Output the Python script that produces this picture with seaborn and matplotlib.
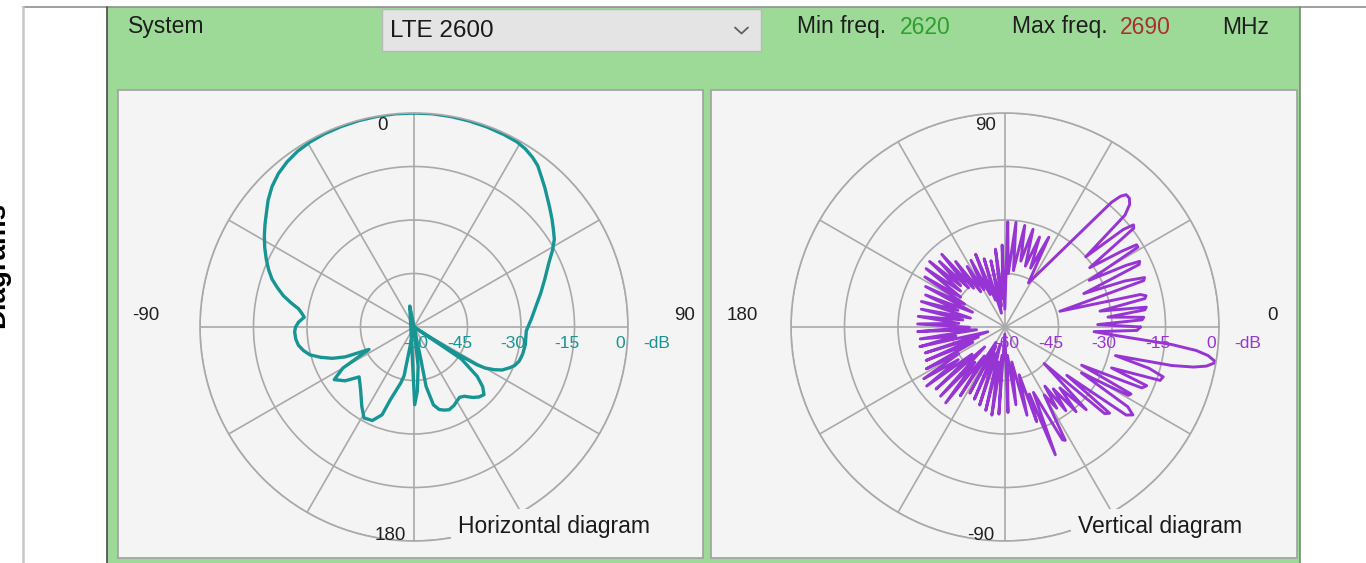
import numpy as np
import pandas as pd
import matplotlib
matplotlib.use("Agg")
import matplotlib.pyplot as plt
import seaborn as sns
from matplotlib.patches import Rectangle

# ---------------- data ----------------
system_label = "System"
system_name = "LTE 2600"
min_freq = "2620"
max_freq = "2690"
freq_unit = "MHz"
db_ticks = [-60, -45, -30, -15, 0]

# Horizontal diagram: angle in degrees clockwise from the top (0), level in dB
h_angle = [0, 5, 10, 15, 20, 25, 29, 32, 35, 37.5, 40, 43, 46, 49, 52, 55, 58, 61, 65, 70, 75, 80,
           86, 92, 99, 104, 108, 111, 113, 116, 118, 120, 121, 122, 122.5,
           123, 124, 128, 131, 134, 137, 140, 144, 147, 150, 153, 157, 160, 163, 166, 168.5, 168,
           170, 174, 177, 179.5, 348.5, 190, 191.5, 193.4, 198, 200, 204, 208.8, 213.4, 220.4,
           227.7, 232, 236.6, 240, 243.5, 246.5, 249, 252, 255, 258, 261, 264, 267.6, 270, 272.4,
           275.1, 277, 279, 281, 283.5, 286, 288.6, 291.5, 294.7, 298, 301.3, 304.5, 307.7, 311,
           314.7, 318.5, 322.5, 326.5, 330.7, 335, 340, 345, 350, 355, 360]
h_db = [0.0, 0.0, -0.1, -0.2, -0.3, -0.45, -0.6, -1.1, -2.0, -3.0, -4.6, -6.3, -8.0, -9.5, -10.9,
        -12.3, -13.6, -15.6, -18.4, -21.0, -23.2, -25.2,
        -27.0, -28.5, -28.4, -28.6, -29.0, -29.8, -30.8, -32.5, -34.5, -37.0, -39.5, -46.8, -53.0,
        -60, -44, -37.5, -34.5, -32.7, -33.2, -34.2, -36.0, -36.5, -36.0, -35.3, -34.8, -35.2,
        -35.8, -37.5, -43.0, -51.6,
        -60, -49, -42, -38.2, -54, -60, -46, -43.8, -38.6, -33.8, -31.3, -30.9, -33.4, -36.9,
        -39.2, -35.5, -33.2, -37.0, -45.9, -39.0, -35.5, -32.5, -29.8, -28.3, -27.2, -26.7, -26.5,
        -26.8, -27.6,
        -29.1, -28.3, -27.2, -25.0, -22.3, -20.2, -18.0, -16.2, -14.4, -12.6, -10.9, -9.3, -7.7,
        -5.8, -4.0, -2.6, -1.6, -0.9, -0.5, -0.3, -0.2, -0.1, -0.05, 0.0, 0.0]

# Vertical diagram: angle in degrees counter-clockwise from the right (0), level in dB
# sector 0..50 deg (fingers and the upper main lobe)
v_angle_a = [0, 1.5, 3, 4, 5.5, 7, 8, 9.5, 11.5, 12.5, 13.5, 16, 18.5, 19.5, 21, 23, 25, 26, 27,
             29, 31, 32, 33, 35, 37.5, 38.5, 39.5, 41, 43, 44.5, 46, 47.5, 48.5, 49.5]
v_db_a = [-22, -34, -21.5, -21, -31, -20.5, -20, -33, -20, -19.5, -21, -44, -19, -18.5, -24, -36,
          -18.5, -18, -22, -33, -16.5, -16.5, -21, -31, -14.5, -14, -17, -30, -14, -11, -9.8,
          -9.7, -11, -14]
# sector 60..90 deg
v_angle_b = [62, 64, 66.5, 69, 71.5, 74, 76.5, 79, 81.5, 84, 86.5, 88.5, 90.5]
v_db_b = [-46, -32, -42, -33, -42, -31.5, -41, -31, -44, -30.5, -45, -30.5, -55]
# sector 90..270 deg (back side)
v_angle_c = [92, 94.5, 97, 99.5, 102, 104.5, 107, 109.5, 112, 114.5, 117, 119.5, 122, 124.5, 127,
             129, 131, 133, 135, 137, 139, 141, 143.5, 146, 148, 150.5, 153, 155.5, 158, 160.5,
             163, 165.5, 168, 170.5, 173, 175.5, 178, 180.5, 183, 185.5, 188, 190.5, 193, 195.5,
             198, 200.5, 203, 205.5, 208, 210, 212.5, 215, 217, 219.5, 222, 224.5, 227, 229.5,
             232, 234.5, 237, 239.5, 242, 244.5, 247, 249.5, 252, 254.5, 257, 259, 261.5, 264,
             266, 268.5]
v_db_c = [-37, -52, -38, -54, -41, -56, -40, -52, -38, -50, -39, -48, -40, -48, -37,
          -46, -33, -45, -34, -43, -32, -44, -32.5, -45, -33.5, -47, -35, -50, -36, -46,
          -35.5, -50, -36, -48, -35.5, -47, -35.5, -50, -35.5, -52, -36, -46, -35.5, -55,
          -36.5, -52, -36, -50, -35, -45, -33, -44, -32.5, -48, -34, -52, -33.5, -47,
          -33, -50, -37, -55, -39, -54, -38, -52, -37, -55, -36, -50, -35, -52,
          -35.5, -58]
# sector 270..360 deg (down-tilted side, main beam)
v_angle_d = [272, 275, 278, 281, 284, 286.5, 288.5, 290, 291.5, 293.5, 297, 298, 300, 302.5, 304,
             306, 308, 310, 312, 314.5, 317, 319, 320.5, 322, 324, 325.5, 327, 329, 331, 332,
             333.5, 336, 337.5, 339, 341, 342.5, 344, 345.5, 347, 348, 349, 350.5, 352, 353,
             354, 355.5, 357, 358.5, 360]
v_db_d = [-36, -52, -38, -50, -34.5, -46, -32, -40, -21.5, -40, -24.5, -24, -38, -33, -40,
          -31, -38, -29, -37, -27.5, -45, -23, -22, -38, -18, -16.5, -19, -35, -20.5, -20,
          -36, -18, -17, -28, -14, -13.5, -18, -28, -12, -6, -2.5, 0, -2.5, -6,
          -13, -28, -35, -23, -22]

h_color = "#169594"
v_color = "#9634d4"

# ---------------- style ----------------
sns.set_style("white")
plt.rcParams['font.family'] = ['Liberation Sans', 'DejaVu Sans']

W, H = 1366, 563
fig = plt.figure(figsize=(W / 100, H / 100), dpi=100)
fig.patch.set_facecolor("white")

# background (pixel coordinates, origin top-left)
ax_bg = fig.add_axes([0, 0, 1, 1], zorder=0)
ax_bg.set_xlim(0, W)
ax_bg.set_ylim(H, 0)
ax_bg.axis("off")

ax_bg.add_patch(Rectangle((107, 7), 1193, 570, fc="#9dda98", ec="none"))
ax_bg.plot([23, W], [7, 7], color="#8f8f8f", lw=1.2)
ax_bg.plot([23, 23], [7, H], color="#c8c8c8", lw=1.8)
ax_bg.plot([107, 107], [7, H], color="#4a4a4a", lw=1.2)
ax_bg.plot([1300, 1300], [7, H], color="#6e8f6b", lw=1.2)
ax_bg.add_patch(Rectangle((118, 90), 585, 468, fc="#f4f4f4", ec="#a0a0a0", lw=1.2))
ax_bg.add_patch(Rectangle((711, 90), 586, 468, fc="#f4f4f4", ec="#a0a0a0", lw=1.2))
# combo box
ax_bg.add_patch(Rectangle((382, 9), 379, 42, fc="#e4e4e4", ec="#b8b8b8", lw=1.0))
ax_bg.plot([735, 741.5, 748], [27.5, 33.5, 27.5], color="#606060", lw=1.3)

# header texts
hdr = dict(va="center", ha="left", fontsize=16.5)
ax_bg.text(128, 27, system_label, color="#1e1e1e", **hdr)
ax_bg.text(390, 31, system_name, color="#1a1a1a", va="center", ha="left", fontsize=17.5)
ax_bg.text(797, 27, "Min freq.", color="#1e1e1e", **hdr)
ax_bg.text(900, 27, min_freq, color="#2f9f2f", **hdr)
ax_bg.text(1012, 27, "Max freq.", color="#1e1e1e", **hdr)
ax_bg.text(1120, 27, max_freq, color="#a83030", **hdr)
ax_bg.text(1222, 27, freq_unit, color="#1e1e1e", **hdr)

# rotated title at the far left, cut by the window edge as in the original
ax_bg.text(-3, 265, "Diagrams", rotation=90, ha="center", va="center",
           fontsize=20, fontweight="bold", color="black")


def polar_axes(cx, cy, R=214):
    rect = [(cx - R) / W, (H - cy - R) / H, 2 * R / W, 2 * R / H]
    return fig.add_axes(rect, projection="polar", zorder=2)


def style_polar(ax):
    ax.set_ylim(-60, 0)
    ax.set_yticks([-45, -30, -15, 0])
    ax.set_yticklabels([])
    ax.set_xticks(np.deg2rad(np.arange(0, 360, 30)))
    ax.set_xticklabels([])
    ax.tick_params(length=0)
    ax.grid(True, color="#a9a9a9", lw=1.2)
    ax.spines["polar"].set_color("#a9a9a9")
    ax.spines["polar"].set_linewidth(1.2)
    ax.patch.set_alpha(0)
    ax.set_xlabel("")
    ax.set_ylabel("")


def radial_labels(ax, theta_right, color):
    for d in db_ticks:
        dx = 2 if d == -60 else -8
        ax.annotate(str(d), xy=(theta_right, d), xytext=(dx, -16), textcoords="offset pixels",
                    ha="center", va="center", fontsize=12.5, color=color, annotation_clip=False,
                    zorder=5)
    ax.annotate("-dB", xy=(theta_right, 0), xytext=(29, -16), textcoords="offset pixels",
                ha="center", va="center", fontsize=12.5, color=color, annotation_clip=False)


def angle_labels(ax, items):
    for lab, th, dx, dy in items:
        ax.annotate(lab, xy=(np.deg2rad(th), 0), xytext=(dx, dy), textcoords="offset pixels",
                    ha="center", va="center", fontsize=13.5, color="#202020",
                    annotation_clip=False)


# ---------------- horizontal diagram ----------------
axh = polar_axes(414, 327)
axh.set_theta_zero_location("N")
axh.set_theta_direction(-1)
dfh = pd.DataFrame({"theta": np.deg2rad(h_angle), "db": h_db})
sns.lineplot(data=dfh, x="theta", y="db", ax=axh, sort=False, estimator=None,
             color=h_color, linewidth=2.4)
style_polar(axh)
radial_labels(axh, np.deg2rad(90), h_color)
angle_labels(axh, [("0", 0, -31, -12), ("90", 90, 57, 11), ("-90", 270, -54, 11),
                   ("180", 180, -24, 6)])

# ---------------- vertical diagram ----------------
axv = polar_axes(1005, 327)
axv.set_theta_zero_location("E")
axv.set_theta_direction(1)
v_angle = v_angle_a + v_angle_b + v_angle_c + v_angle_d
v_db = v_db_a + v_db_b + v_db_c + v_db_d
dfv = pd.DataFrame({"theta": np.deg2rad(v_angle), "db": v_db})
sns.lineplot(data=dfv, x="theta", y="db", ax=axv, sort=False, estimator=None,
             color=v_color, linewidth=2.1)
style_polar(axv)
radial_labels(axv, 0.0, v_color)
angle_labels(axv, [("90", 90, -19, -12), ("0", 0, 54, 11), ("180", 180, -49, 11),
                   ("-90", 270, -24, 6)])

# diagram captions (covering the ring like the original)
ax_fg = fig.add_axes([0, 0, 1, 1], zorder=10)
ax_fg.set_xlim(0, W)
ax_fg.set_ylim(H, 0)
ax_fg.axis("off")
cap_box = dict(boxstyle="square,pad=0.3", fc="#f4f4f4", ec="none")
ax_fg.text(458, 527, "Horizontal diagram", ha="left", va="center", fontsize=16.5,
           color="#1a1a1a", bbox=cap_box)
ax_fg.text(1078, 527, "Vertical diagram", ha="left", va="center", fontsize=16.5,
           color="#1a1a1a", bbox=cap_box)

fig.savefig("out.png", dpi=100)
